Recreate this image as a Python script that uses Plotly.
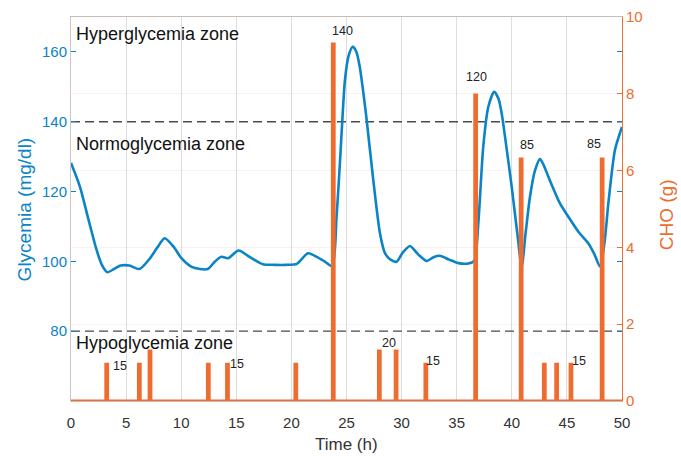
import plotly.graph_objects as go

# ---- data ----
time_h = [0, 0.8, 1.6, 2.3, 2.8, 3.3, 3.9, 4.5, 5.3, 6.2, 7.1, 7.8, 8.5, 9.3, 10.0, 10.9,
          11.7, 12.4, 13.05, 13.65, 14.25, 15.2, 16.2, 17.4, 18.5, 19.5, 20.5, 21.5, 22.3,
          23.0, 23.7, 24.1, 24.4, 24.65, 24.86, 25.2, 25.56, 25.9, 26.2, 26.5, 26.83, 27.43,
          28.04, 28.5, 29.0, 29.55, 30.1, 30.76, 31.5, 32.28, 32.9, 33.48, 34.3, 35.15, 36.05,
          36.6, 36.96, 37.41, 37.87, 38.41, 38.8, 39.08, 39.5, 39.99, 40.5, 40.9, 41.25, 41.65,
          42.1, 42.56, 42.9, 43.31, 44.37, 45.13, 46.04, 46.94, 47.5, 48.0, 48.4, 48.76, 49.36, 50]
glycemia = [128.2, 121.5, 111.8, 103.5, 99.0, 96.9, 97.8, 98.8, 98.8, 97.8, 100.6, 103.8, 106.6,
            104.2, 101.0, 98.5, 97.8, 97.8, 99.9, 101.3, 100.9, 103.1, 101.3, 99.2, 99.0, 99.0,
            99.3, 102.3, 101.3, 100.0, 98.6, 112.8, 128.1, 142.0, 152.0, 159.0, 161.5, 160.0,
            155.8, 149.0, 140.5, 123.3, 108.0, 102.3, 100.5, 99.9, 102.5, 104.4, 102.0, 100.1,
            101.2, 101.6, 100.5, 99.5, 99.4, 100.2, 110.9, 132.9, 144.3, 148.6, 146.5, 142.4,
            133.0, 121.4, 108.0, 98.5, 108.0, 118.5, 126.0, 129.3, 127.5, 124.3, 116.6, 112.8,
            108.5, 105.2, 102.0, 98.5, 105.0, 116.6, 131.9, 138.5]

meal_time = [3.24, 6.2, 7.17, 12.46, 14.2, 20.4, 23.8, 27.98, 29.5, 32.2, 36.72, 40.85,
             42.95, 44.07, 45.37, 48.2]
cho = [0.96, 0.96, 1.3, 0.96, 0.96, 0.96, 9.3, 1.3, 1.3, 0.96, 7.97, 6.3, 0.96, 0.96, 0.96, 6.3]

label_text = ["15", "15", "140", "20", "15", "120", "85", "85", "15"]
label_x = [4.45, 15.1, 24.65, 28.86, 32.82, 36.78, 41.35, 47.46, 46.07]
label_y = [0.91, 0.96, 9.63, 1.52, 1.04, 8.45, 6.67, 6.69, 1.04]

zone_names = ["Hyperglycemia zone", "Normoglycemia zone", "Hypoglycemia zone"]
zone_label_y = [165.0, 133.5, 76.6]
thresholds = [140, 80]

BLUE = "#0A84C6"
ORANGE = "#EE6C2F"
FONT = "Liberation Sans, Arial, Helvetica, sans-serif"

# pulse (stairs) line for CHO
hw = 0.08
px, py = [0], [0]
for t, h in zip(meal_time, cho):
    px += [t - hw, t - hw, t + hw, t + hw]
    py += [0, h, h, 0]
px.append(50)
py.append(0)

fig = go.Figure()
for th in thresholds:
    fig.add_trace(go.Scatter(x=[0, 50], y=[th, th], mode="lines",
                             line=dict(color="#4a4a4a", width=1.3, dash="9px,5px"),
                             hoverinfo="skip", showlegend=False))
fig.add_trace(go.Scatter(x=time_h, y=glycemia, mode="lines",
                         line=dict(color=BLUE, width=2.6, shape="spline", smoothing=0.7),
                         showlegend=False))
fig.add_trace(go.Scatter(x=px, y=py, mode="lines", yaxis="y2",
                         line=dict(color=ORANGE, width=3), showlegend=False))

for t, x, y in zip(label_text, label_x, label_y):
    fig.add_annotation(x=x, y=y, yref="y2", text=t, showarrow=False,
                       font=dict(family=FONT, size=12.5, color="#222"),
                       xanchor="center", yanchor="middle")
for name, y in zip(zone_names, zone_label_y):
    fig.add_annotation(x=0.25, y=y, yref="y", text=name, showarrow=False,
                       font=dict(family=FONT, size=18, color="#111"),
                       xanchor="left", yanchor="middle")

# axis titles as annotations (paper coords)
fig.add_annotation(x=0.5, y=-0.112, xref="paper", yref="paper", text="Time (h)",
                   showarrow=False, font=dict(family=FONT, size=17, color="#333"),
                   xanchor="center", yanchor="middle")
fig.add_annotation(x=-0.0853, y=0.499, xref="paper", yref="paper", text="Glycemia (mg/dl)",
                   showarrow=False, textangle=-90, font=dict(family=FONT, size=19, color=BLUE),
                   xanchor="center", yanchor="middle")
fig.add_annotation(x=1.0799, y=0.484, xref="paper", yref="paper", text="CHO (g)",
                   showarrow=False, textangle=-90, font=dict(family=FONT, size=19, color=ORANGE),
                   xanchor="center", yanchor="middle")

fig.update_layout(
    width=681, height=456, margin=dict(l=71, r=59, t=17, b=55, autoexpand=False),
    paper_bgcolor="white", plot_bgcolor="white",
    font=dict(family=FONT),
    xaxis=dict(range=[0, 50], tickvals=list(range(0, 51, 5)), showgrid=True,
               gridcolor="#dddddd", gridwidth=1, zeroline=False, automargin=False,
               showline=True, linecolor="#c9bdb8", mirror=True,
               ticks="outside", ticklen=8, tickcolor="rgba(0,0,0,0)",
               tickfont=dict(size=15, color="#333")),
    yaxis=dict(range=[60, 170], tickvals=[80, 100, 120, 140, 160], showgrid=False,
               zeroline=False, showline=True, linecolor="#cfc6c4", mirror="ticks",
               automargin=False, ticks="inside", ticklen=5, tickcolor=BLUE,
               tickfont=dict(size=15, color=BLUE)),
    yaxis2=dict(range=[0, 10], tickvals=[0, 2, 4, 6, 8, 10], overlaying="y", side="right",
                showgrid=True, gridcolor="rgba(238,108,47,0.10)", zeroline=False,
                automargin=False, showline=True, linecolor=ORANGE, ticks="inside",
                ticklen=5, tickcolor=ORANGE, tickfont=dict(size=15, color=ORANGE)),
)

fig.write_html("out.html")
